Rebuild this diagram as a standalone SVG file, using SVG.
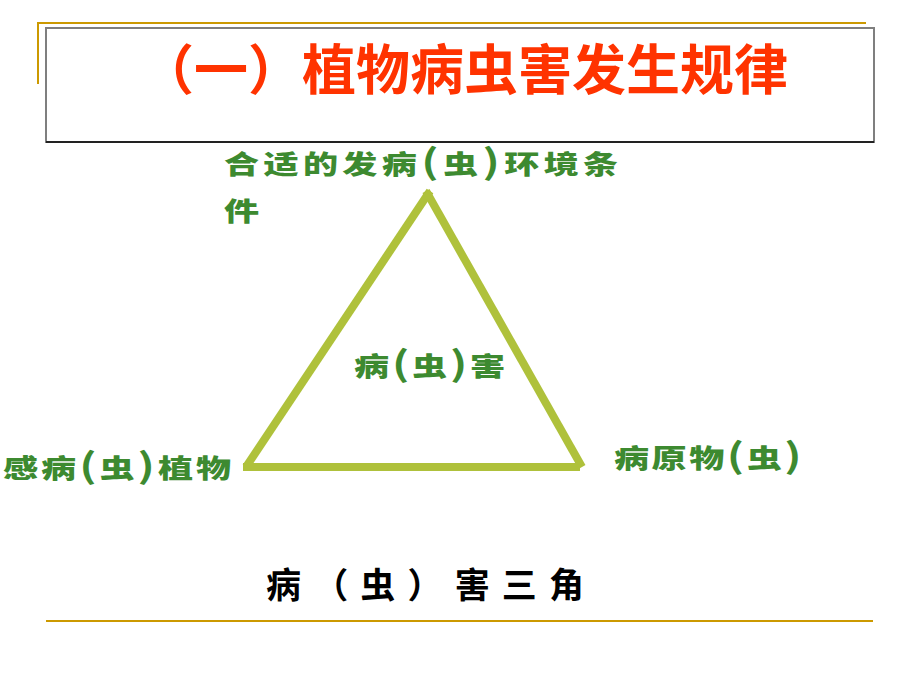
<svg xmlns="http://www.w3.org/2000/svg" width="920" height="690" viewBox="0 0 920 690">
  <style>
    .gold { stroke: #CC9900; stroke-width: 2; fill: none; }
    .title { font-family: "Noto Sans CJK SC", "Noto Sans", sans-serif; font-weight: bold; font-size: 54px; fill: #FF3300; }
    .lbl { font-family: "Noto Sans CJK SC", "Noto Sans", sans-serif; font-weight: 900; font-size: 26px; fill: #3D8A30; }
    .p { font-size: 34px; font-weight: bold; }
    .cap { font-family: "Noto Sans CJK SC", "Noto Sans", sans-serif; font-weight: bold; font-size: 35px; fill: #000000; }
    .edge { stroke: #AFC13B; stroke-width: 8; stroke-linecap: butt; fill: none; }
  </style>
  <rect width="920" height="690" fill="#FFFFFF"/>
  <g id="frame">
    <line class="gold" x1="37" y1="23" x2="866" y2="23"/>
    <line class="gold" x1="38" y1="22" x2="38" y2="84"/>
    <rect x="46" y="28" width="828" height="114" fill="#FFFFFF" stroke="#7F7F7F" stroke-width="2"/>
    <line x1="46" y1="142" x2="874" y2="142" stroke="#222222" stroke-width="2"/>
    <line class="gold" x1="46" y1="621" x2="873" y2="621"/>
  </g>
  <g id="title">
    <text class="title" x="140" y="90" textLength="648" lengthAdjust="spacing">（一）植物病虫害发生规律</text>
  </g>
  <g id="connectors">
    <line class="edge" x1="246" y1="467" x2="430" y2="191"/>
    <line class="edge" x1="426" y1="191" x2="582" y2="467"/>
    <line class="edge" x1="243" y1="467" x2="580" y2="467"/>
  </g>
  <g id="node-environment">
    <text class="lbl" transform="translate(224,174) scale(1.35,1)" x="0" y="0" textLength="292" lengthAdjust="spacing">合适的发病<tspan class="p">(</tspan>虫<tspan class="p">)</tspan>环境条</text>
    <text class="lbl" transform="translate(224,221) scale(1.35,1)" x="0" y="0">件</text>
  </g>
  <g id="node-damage">
    <text class="lbl" transform="translate(354,376) scale(1.35,1)" x="0" y="0" textLength="112" lengthAdjust="spacing">病<tspan class="p">(</tspan>虫<tspan class="p">)</tspan>害</text>
  </g>
  <g id="node-host">
    <text class="lbl" transform="translate(3,478) scale(1.35,1)" x="0" y="0" textLength="169" lengthAdjust="spacing">感病<tspan class="p">(</tspan>虫<tspan class="p">)</tspan>植物</text>
  </g>
  <g id="node-pathogen">
    <text class="lbl" transform="translate(614,468) scale(1.35,1)" x="0" y="0" textLength="139" lengthAdjust="spacing">病原物<tspan class="p">(</tspan>虫<tspan class="p">)</tspan></text>
  </g>
  <g id="caption">
    <text class="cap" x="266" y="598" textLength="318" lengthAdjust="spacing">病（虫）害三角</text>
  </g>
</svg>
